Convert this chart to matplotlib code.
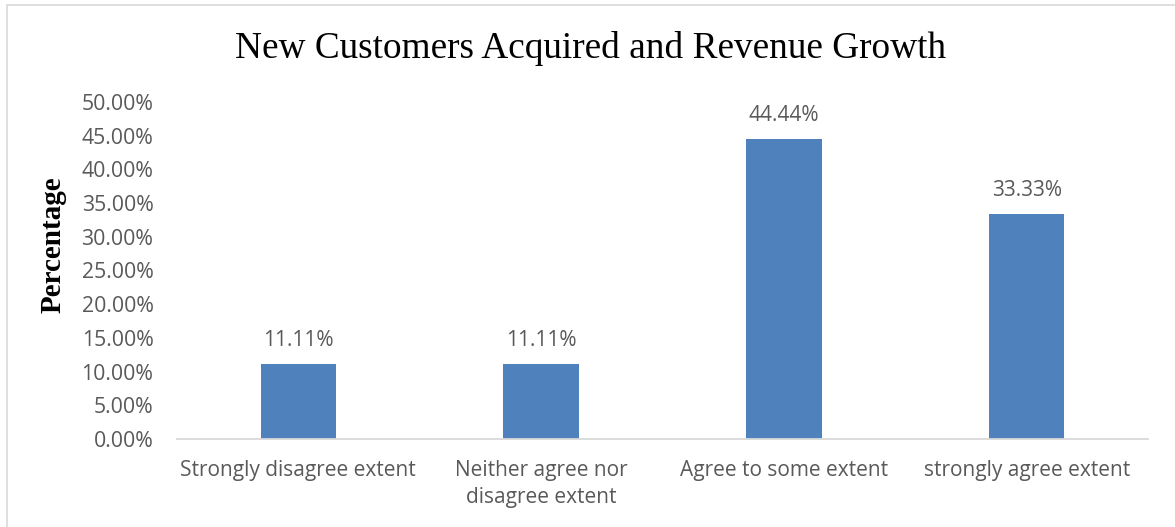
import matplotlib
matplotlib.use("Agg")
import matplotlib.pyplot as plt
from matplotlib.patches import Rectangle
from matplotlib.ticker import FuncFormatter, MultipleLocator

categories = ["Strongly disagree extent", "Neither agree nor\ndisagree extent",
              "Agree to some extent", "strongly agree extent"]
values = [11.11, 11.11, 44.44, 33.33]

TEXT_GREY = "#595959"
BAR_BLUE = "#4f81bd"
SANS = ["Open Sans", "DejaVu Sans"]
SERIF = ["Liberation Serif", "DejaVu Serif"]

fig = plt.figure(figsize=(11.75, 5.27), dpi=100)
W, H = 1175, 527
ax = fig.add_axes([177 / W, 1 - 439 / H, (1148 - 177) / W, (439 - 102) / H])

x = list(range(len(categories)))
bars = ax.bar(x, values, width=0.31, color=BAR_BLUE, zorder=2)
ax.set_xlim(-0.5, len(categories) - 0.5)
ax.set_ylim(0, 50)
ax.yaxis.set_major_locator(MultipleLocator(5))
ax.yaxis.set_major_formatter(FuncFormatter(lambda v, _: f"{v:.2f}%"))

for rect, v in zip(bars, values):
    ax.annotate(f"{v:.2f}%", (rect.get_x() + rect.get_width() / 2, v),
                xytext=(0, 17), textcoords="offset points", ha="center", va="center",
                fontsize=15, color=TEXT_GREY, family=SANS)

ax.set_xticks(x)
ax.set_xticklabels(categories, fontsize=15, color=TEXT_GREY, family=SANS,
                   linespacing=1.38, va="top")
for lab in ax.get_yticklabels():
    lab.set_fontsize(15.3)
    lab.set_color(TEXT_GREY)
    lab.set_family(SANS)
ax.tick_params(axis="both", length=0)
ax.tick_params(axis="x", pad=15)
ax.tick_params(axis="y", pad=17)

for side in ("top", "right", "left"):
    ax.spines[side].set_visible(False)
ax.spines["bottom"].set_color("#d9d9d9")
ax.spines["bottom"].set_linewidth(1.3)

fig.text(591 / W, 1 - 48 / H, "New Customers Acquired and Revenue Growth",
         ha="center", va="center", fontsize=26.8, family=SERIF, color="black")
fig.text(53 / W, 1 - 245 / H, "Percentage", rotation=90, ha="center", va="center",
         fontsize=21, fontweight="bold", family=SERIF, color="black")

# light chart-area frame
fig.patches.append(Rectangle((7 / W, -0.01), 1.02, 1 - 5 / H + 0.01,
                             transform=fig.transFigure, fill=False,
                             edgecolor="#d9d9d9", linewidth=1.2))

fig.savefig("out.png", dpi=100)
